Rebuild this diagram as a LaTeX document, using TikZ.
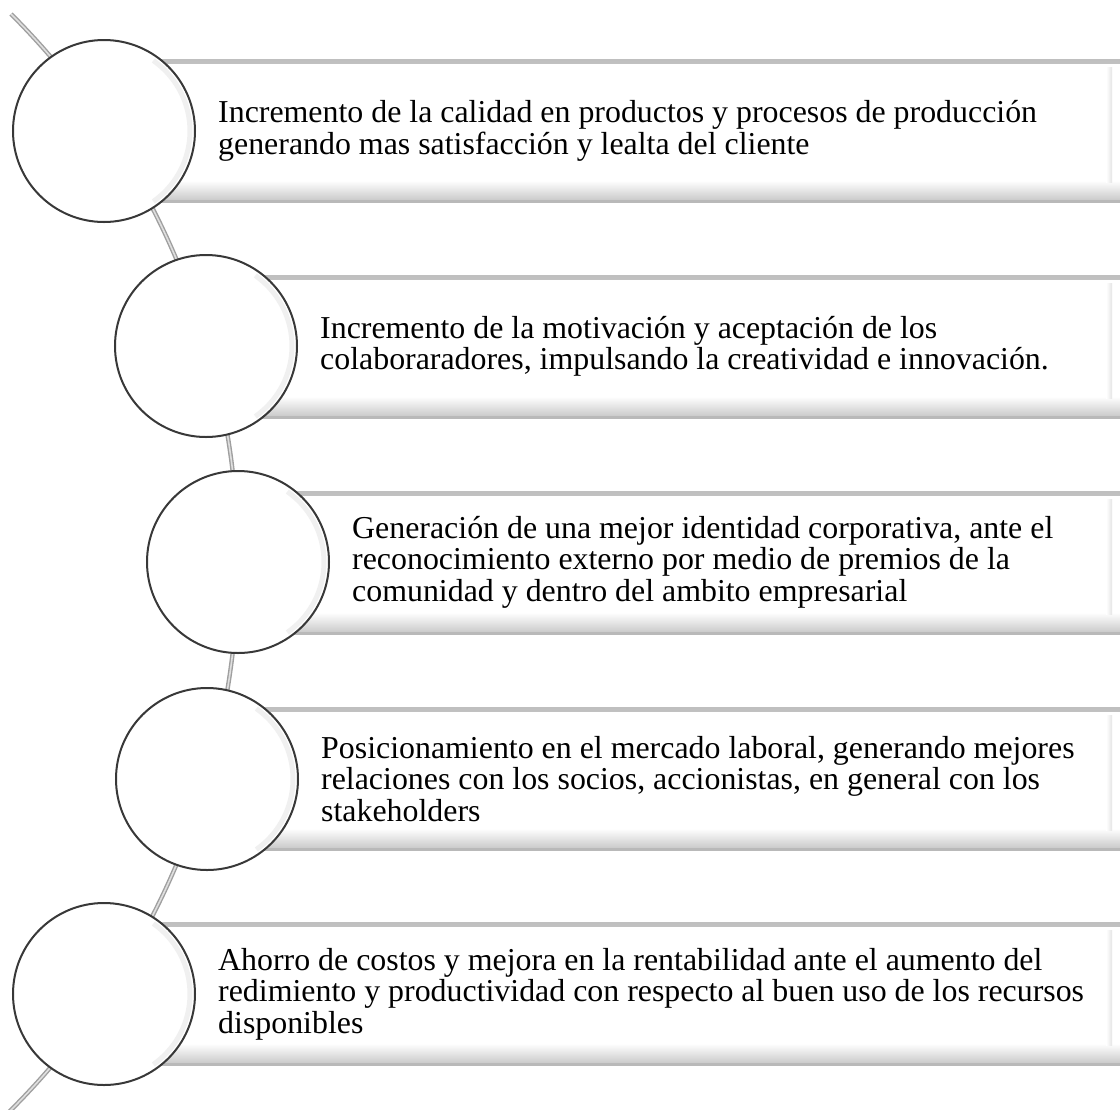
\documentclass[tikz,border=0pt]{standalone}
\usepackage{fontspec}
\setmainfont{Liberation Serif}
\usetikzlibrary{positioning}

\tikzset{
  spine/.style={draw=gray!75, double=gray!25, double distance=1.6bp, line width=1.4bp},
  bead/.style={circle, minimum size=182bp, inner sep=0, draw=black!78, line width=2bp, fill=white,
    path picture={
      \draw[gray!12, line width=5bp] (path picture bounding box.center) ++(-55:86) arc[start angle=-55, end angle=55, radius=86];
    }},
  listbox/.style={rectangle, anchor=west, minimum height=143bp, inner sep=0, fill=white,
    path picture={
      \shade[top color=gray!50, bottom color=white]
        (path picture bounding box.north west) rectangle ([yshift=-4bp]path picture bounding box.north east);
      \shade[top color=white, bottom color=gray!40]
        ([yshift=22bp]path picture bounding box.south west) rectangle ([yshift=3bp]path picture bounding box.south east);
      \fill[gray!55]
        ([yshift=3bp]path picture bounding box.south west) rectangle (path picture bounding box.south east);
      \shade[left color=white, right color=gray!22]
        ([xshift=-14bp,yshift=-8bp]path picture bounding box.north east) rectangle ([xshift=-8bp,yshift=20bp]path picture bounding box.south east);
    }},
  itemtext/.style={inner sep=0, align=left, font=\fontsize{32}{31.5}\selectfont}
}

\begin{document}
\begin{tikzpicture}[x=1bp,y=-1bp]
\useasboundingbox (0,0) rectangle (1120,1110);

% curved line behind the circles
\coordinate (arcc) at (-537,562);
\draw[spine] (arcc) ++(-45.0:775) arc[start angle=-45.0, end angle=45.3, radius=775];

% boxes
\node[listbox, minimum width=1016bp] (b1) at (104,131) {};
\node[listbox, minimum width=914bp] (b2) at (206,347) {};
\node[listbox, minimum width=882bp] (b3) at (238,563) {};
\node[listbox, minimum width=913bp] (b4) at (207,779) {};
\node[listbox, minimum width=1016bp] (b5) at (104,994) {};

% circles
\node[bead] (c1) at (104,131) {};
\node[bead] (c2) at (206,346) {};
\node[bead] (c3) at (238,562) {};
\node[bead] (c4) at (207,779) {};
\node[bead] (c5) at (104,994) {};

% texts
\node[itemtext, right=22bp of c1] (t1) {Incremento de la calidad en productos y procesos de producción\\generando mas satisfacción y lealta del cliente};
\node[itemtext, right=22bp of c2] (t2) {Incremento de la motivación y aceptación de los\\colaboraradores, impulsando la creatividad e innovación.};
\node[itemtext, right=22bp of c3] (t3) {Generación de una mejor identidad corporativa, ante el\\reconocimiento externo por medio de premios de la\\comunidad y dentro del ambito empresarial};
\node[itemtext, right=22bp of c4] (t4) {Posicionamiento en el mercado laboral, generando mejores\\relaciones con los socios, accionistas, en general con los\\stakeholders};
\node[itemtext, right=22bp of c5] (t5) {Ahorro de costos y mejora en la rentabilidad ante el aumento del\\redimiento y productividad con respecto al buen uso de los recursos\\disponibles};

\end{tikzpicture}
\end{document}
